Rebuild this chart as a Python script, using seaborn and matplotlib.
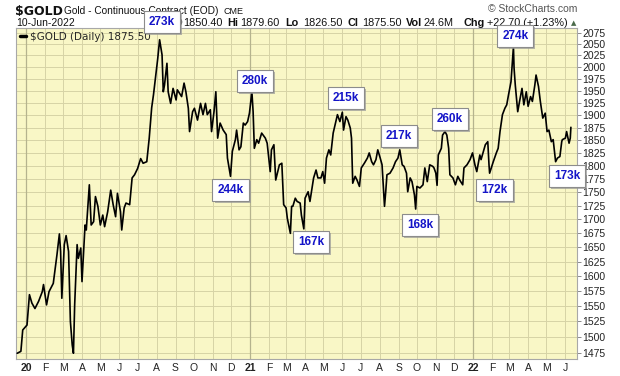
import numpy as np
import pandas as pd
import matplotlib
matplotlib.use("Agg")
import matplotlib.pyplot as plt
import matplotlib.patheffects as pe
import seaborn as sns

# Daily closes (continuous gold futures)
dates = [
    "2019-12-17", "2019-12-23", "2019-12-26", "2020-01-02", "2020-01-06", "2020-01-10",
    "2020-01-15", "2020-01-21", "2020-01-27", "2020-01-29", "2020-02-03", "2020-02-07",
    "2020-02-14", "2020-02-20", "2020-02-24", "2020-02-26", "2020-02-28", "2020-03-03",
    "2020-03-06", "2020-03-10", "2020-03-13", "2020-03-16", "2020-03-18", "2020-03-20",
    "2020-03-24", "2020-03-26", "2020-03-30", "2020-04-01", "2020-04-06", "2020-04-08",
    "2020-04-13", "2020-04-16", "2020-04-20", "2020-04-23", "2020-04-27", "2020-05-01",
    "2020-05-05", "2020-05-08", "2020-05-13", "2020-05-18", "2020-05-22", "2020-05-26",
    "2020-05-29", "2020-06-03", "2020-06-05", "2020-06-09", "2020-06-12", "2020-06-18",
    "2020-06-22", "2020-06-26", "2020-07-01", "2020-07-06", "2020-07-10", "2020-07-16",
    "2020-07-20", "2020-07-24", "2020-07-27", "2020-07-30", "2020-08-03", "2020-08-06",
    "2020-08-10", "2020-08-12", "2020-08-14", "2020-08-18", "2020-08-20", "2020-08-24",
    "2020-08-28", "2020-09-02", "2020-09-04", "2020-09-11", "2020-09-15", "2020-09-18",
    "2020-09-22", "2020-09-24", "2020-09-29", "2020-10-02", "2020-10-07", "2020-10-12",
    "2020-10-16", "2020-10-20", "2020-10-23", "2020-10-28", "2020-10-30", "2020-11-03",
    "2020-11-06", "2020-11-09", "2020-11-13", "2020-11-18", "2020-11-23", "2020-11-25",
    "2020-11-30", "2020-12-03", "2020-12-08", "2020-12-10", "2020-12-14", "2020-12-17",
    "2020-12-21", "2020-12-24", "2020-12-28", "2020-12-31", "2021-01-04", "2021-01-06",
    "2021-01-08", "2021-01-12", "2021-01-15", "2021-01-20", "2021-01-26", "2021-01-29",
    "2021-02-03", "2021-02-05", "2021-02-09", "2021-02-12", "2021-02-18", "2021-02-22",
    "2021-02-25", "2021-03-01", "2021-03-03", "2021-03-08", "2021-03-10", "2021-03-12",
    "2021-03-16", "2021-03-19", "2021-03-24", "2021-03-26", "2021-03-30", "2021-04-01",
    "2021-04-06", "2021-04-09", "2021-04-15", "2021-04-19", "2021-04-22", "2021-04-27",
    "2021-04-30", "2021-05-03", "2021-05-06", "2021-05-10", "2021-05-13", "2021-05-17",
    "2021-05-20", "2021-05-24", "2021-05-28", "2021-06-01", "2021-06-03", "2021-06-07",
    "2021-06-10", "2021-06-14", "2021-06-16", "2021-06-18", "2021-06-22", "2021-06-25",
    "2021-06-29", "2021-07-02", "2021-07-07", "2021-07-12", "2021-07-15", "2021-07-19",
    "2021-07-22", "2021-07-26", "2021-07-29", "2021-08-02", "2021-08-05", "2021-08-09",
    "2021-08-11", "2021-08-13", "2021-08-18", "2021-08-23", "2021-08-27", "2021-08-31",
    "2021-09-03", "2021-09-07", "2021-09-10", "2021-09-14", "2021-09-16", "2021-09-20",
    "2021-09-23", "2021-09-27", "2021-09-29", "2021-10-01", "2021-10-06", "2021-10-11",
    "2021-10-14", "2021-10-18", "2021-10-22", "2021-10-27", "2021-10-29", "2021-11-01",
    "2021-11-03", "2021-11-05", "2021-11-10", "2021-11-12", "2021-11-16", "2021-11-19",
    "2021-11-22", "2021-11-24", "2021-11-29", "2021-12-03", "2021-12-07", "2021-12-10",
    "2021-12-15", "2021-12-17", "2021-12-22", "2021-12-27", "2021-12-31", "2022-01-04",
    "2022-01-07", "2022-01-12", "2022-01-14", "2022-01-21", "2022-01-25", "2022-01-27",
    "2022-01-28", "2022-02-03", "2022-02-08", "2022-02-11", "2022-02-14", "2022-02-18",
    "2022-02-22", "2022-02-25", "2022-02-28", "2022-03-04", "2022-03-08", "2022-03-09",
    "2022-03-11", "2022-03-15", "2022-03-18", "2022-03-22", "2022-03-25", "2022-03-29",
    "2022-04-01", "2022-04-05", "2022-04-08", "2022-04-12", "2022-04-14", "2022-04-18",
    "2022-04-21", "2022-04-25", "2022-04-29", "2022-05-02", "2022-05-05", "2022-05-09",
    "2022-05-12", "2022-05-16", "2022-05-19", "2022-05-23", "2022-05-26", "2022-05-27",
    "2022-06-01", "2022-06-03", "2022-06-07", "2022-06-09", "2022-06-10",
]
prices = [
    1474, 1477, 1511, 1519, 1569, 1555,
    1546, 1558, 1574, 1586, 1552, 1574,
    1588, 1637, 1674, 1643, 1563, 1655,
    1671, 1643, 1525, 1487, 1474, 1552,
    1655, 1631, 1649, 1591, 1690, 1681,
    1764, 1690, 1696, 1742, 1724, 1690,
    1708, 1687, 1714, 1754, 1727, 1705,
    1748, 1714, 1681, 1721, 1730, 1727,
    1777, 1783, 1795, 1814, 1805, 1808,
    1854, 1915, 1942, 1975, 2019, 2059,
    2026, 1948, 1962, 2008, 1948, 1924,
    1955, 1931, 1952, 1938, 1966, 1948,
    1914, 1867, 1907, 1914, 1890, 1924,
    1901, 1924, 1901, 1911, 1867, 1907,
    1948, 1854, 1884, 1870, 1861, 1815,
    1780, 1828, 1851, 1870, 1831, 1837,
    1884, 1880, 1887, 1904, 1948, 1907,
    1834, 1851, 1844, 1864, 1854, 1844,
    1789, 1831, 1841, 1773, 1802, 1805,
    1727, 1721, 1702, 1675, 1724, 1724,
    1739, 1733, 1730, 1708, 1683, 1739,
    1751, 1733, 1777, 1792, 1777, 1777,
    1789, 1767, 1815, 1831, 1821, 1864,
    1880, 1901, 1887, 1906, 1870, 1897,
    1890, 1874, 1854, 1767, 1780, 1773,
    1761, 1796, 1805, 1815, 1825, 1808,
    1802, 1812, 1831, 1815, 1802, 1724,
    1751, 1783, 1786, 1796, 1808, 1815,
    1831, 1802, 1799, 1786, 1751, 1777,
    1770, 1745, 1719, 1761, 1758, 1764,
    1796, 1770, 1802, 1799, 1796, 1786,
    1763, 1821, 1834, 1860, 1867, 1860,
    1834, 1783, 1777, 1764, 1780, 1773,
    1764, 1796, 1802, 1812, 1825, 1802,
    1789, 1821, 1812, 1841, 1847, 1802,
    1786, 1808, 1825, 1834, 1867, 1901,
    1914, 1921, 1942, 1969, 2044, 1998,
    1962, 1907, 1928, 1955, 1921, 1948,
    1918, 1938, 1928, 1962, 1983, 1959,
    1928, 1894, 1904, 1867, 1870, 1847,
    1851, 1808, 1815, 1818, 1847, 1851,
    1854, 1867, 1844, 1854, 1875.5,
]

# Open interest call-outs
oi_labels = ["273k", "280k", "244k", "167k", "215k", "217k", "168k", "260k", "172k", "274k", "173k"]
oi_dates = ["2020-08-10", "2021-01-09", "2020-11-30", "2021-04-11", "2021-06-07", "2021-09-02",
            "2021-10-06", "2021-11-24", "2022-02-05", "2022-03-11", "2022-06-04"]
oi_levels = [2099, 1971, 1754, 1660, 1935, 1858, 1690, 1892, 1754, 2068, 1781]

y_ticks = [1475, 1500, 1525, 1550, 1575, 1600, 1625, 1650, 1675, 1700, 1725, 1750, 1775,
           1800, 1825, 1850, 1875, 1900, 1925, 1950, 1975, 2000, 2025, 2050, 2075]
month_starts = ["2020-01-01", "2020-02-01", "2020-03-01", "2020-04-01", "2020-05-01", "2020-06-01",
                "2020-07-01", "2020-08-01", "2020-09-01", "2020-10-01", "2020-11-01", "2020-12-01",
                "2021-01-01", "2021-02-01", "2021-03-01", "2021-04-01", "2021-05-01", "2021-06-01",
                "2021-07-01", "2021-08-01", "2021-09-01", "2021-10-01", "2021-11-01", "2021-12-01",
                "2022-01-01", "2022-02-01", "2022-03-01", "2022-04-01", "2022-05-01", "2022-06-01"]
month_labels = ["20", "F", "M", "A", "M", "J", "J", "A", "S", "O", "N", "D",
                "21", "F", "M", "A", "M", "J", "J", "A", "S", "O", "N", "D",
                "22", "F", "M", "A", "M", "J"]

df = pd.DataFrame({"date": pd.to_datetime(dates), "price": prices})

sns.set_style("white")
plt.rcParams["font.family"] = ["Liberation Sans", "DejaVu Sans"]

fig = plt.figure(figsize=(6.2, 3.76), dpi=100)
ax = fig.add_axes([16 / 620, 17 / 376, 561 / 620, 331 / 376])
ax.set_facecolor("#F9F7C6")

sns.lineplot(data=df, x="date", y="price", color="black", linewidth=1.2,
             label="$GOLD (Daily) 1875.50", ax=ax, zorder=4)

ax.set_yscale("log")
ax.set_ylim(1465, 2085)
ax.set_xlim(pd.Timestamp("2019-12-15"), pd.Timestamp("2022-06-20"))

ax.set_yticks(y_ticks, labels=[str(v) for v in y_ticks])
ax.minorticks_off()
ax.yaxis.tick_right()
ticks_x = pd.to_datetime(month_starts)
ax.set_xticks(ticks_x, labels=month_labels)
for lab in ax.get_xticklabels():
    if lab.get_text().isdigit():
        lab.set_fontweight("bold")
        lab.set_fontsize(8.5)

ax.tick_params(axis="y", direction="out", length=3, width=0.7, color="#8A8A8A",
               pad=1, labelsize=7.5, labelcolor="#222222")
ax.tick_params(axis="x", length=0, pad=3, labelsize=7.5, labelcolor="#222222")
ax.set_xlabel("")
ax.set_ylabel("")

ax.grid(True, color="#D6D3A6", linewidth=0.7, zorder=0)
ax.set_axisbelow(True)
for d, lab in zip(ticks_x, month_labels):
    if lab.isdigit():
        ax.axvline(d, color="#B5B38E", linewidth=0.9, zorder=1)

for s in ax.spines.values():
    s.set_color("#A8A8A8")
    s.set_linewidth(0.8)

leg = ax.legend(loc="upper left", frameon=False, handlelength=0.6, handletextpad=0.4,
                borderaxespad=0.15, borderpad=0.2, prop={"family": "DejaVu Sans", "size": 7.5})
for h in leg.get_lines():
    h.set_linewidth(2.5)

# boxed open-interest labels
for txt, d, lvl in zip(oi_labels, oi_dates, oi_levels):
    t = ax.text(pd.Timestamp(d), lvl, txt, ha="center", va="center", fontsize=8.5,
                fontweight="bold", color="#1414C8", zorder=6, clip_on=False,
                bbox=dict(boxstyle="square,pad=0.42", fc="white", ec="#8C8C8C", lw=0.8))
    t.get_bbox_patch().set_path_effects([
        pe.withSimplePatchShadow(offset=(1.5, -1.5), shadow_rgbFace="#999999", alpha=0.7)])


def ftxt(x, y, s, **kw):
    kw.setdefault("fontsize", 8)
    kw.setdefault("color", "#111111")
    fig.text(x / 620, 1 - y / 376, s, va="baseline", ha=kw.pop("ha", "left"),
             zorder=-1, parse_math=False, **kw)


ftxt(15, 15, "$GOLD", fontsize=9, fontweight="bold", family="DejaVu Sans")
ftxt(64, 14, "Gold - Continuous Contract (EOD)", fontsize=7.3)
ftxt(223, 14, "CME", fontsize=6.5)
ftxt(577, 12.5, "\u00a9 StockCharts.com", fontsize=7.5, color="#555555", ha="right")
ftxt(16, 26, "10-Jun-2022", fontsize=7.5)
ftxt(174, 26, "O", fontsize=8, fontweight="bold")
header = [(183, "1850.40", "normal"), (227, "Hi", "bold"), (240, "1879.60", "normal"),
          (285, "Lo", "bold"), (303, "1826.50", "normal"), (347, "Cl", "bold"),
          (362, "1875.50", "normal"), (406, "Vol", "bold"), (424, "24.6M", "normal"),
          (463, "Chg", "bold"), (487, "+22.70 (+1.23%)", "normal")]
for x, s, w in header:
    ftxt(x, 26, s, fontsize=7.8, fontweight=w)
ftxt(571, 25, "\u25b2", fontsize=5, color="#4A6A4A", family="DejaVu Sans")

fig.savefig("out.png", dpi=100)
